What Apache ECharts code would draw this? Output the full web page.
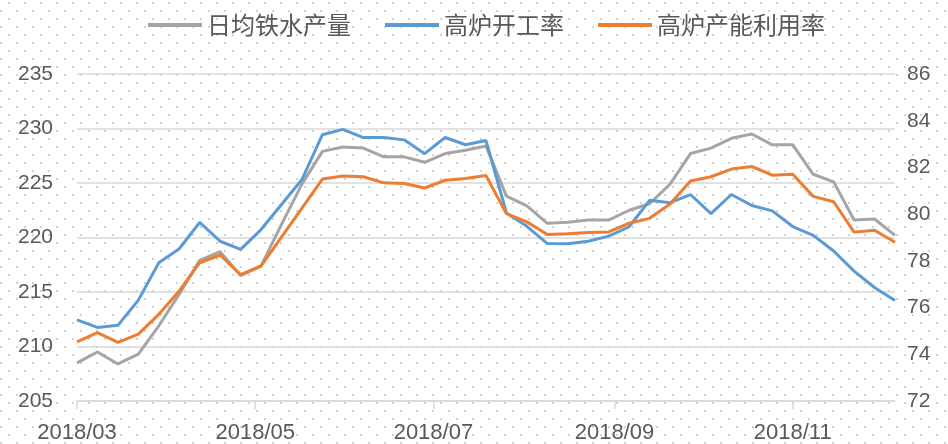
<!DOCTYPE html>
<html>
<head>
<meta charset="utf-8">
<script src="https://cdn.jsdelivr.net/npm/echarts@6/dist/echarts.min.js"></script>
<style>
    html, body {
        margin: 0;
        padding: 0;
        width: 948px;
        height: 444px;
        background-color: #ffffff;
        /* dotted paper background */
        background-image: url("data:image/svg+xml;utf8,<svg xmlns='http://www.w3.org/2000/svg' width='16' height='16'><rect x='8' y='2' width='2' height='2' fill='%23d2d2d2'/><rect x='0' y='10' width='2' height='2' fill='%23d2d2d2'/></svg>");
    }
    #chart {
        width: 948px;
        height: 444px;
    }
</style>
</head>
<body>
<div id="chart"></div>
<script>
    // weekly dates
    const dates = [
        '2018-03-02', '2018-03-09', '2018-03-16', '2018-03-23', '2018-03-30',
        '2018-04-06', '2018-04-13', '2018-04-20', '2018-04-27',
        '2018-05-04', '2018-05-11', '2018-05-18', '2018-05-25',
        '2018-06-01', '2018-06-08', '2018-06-15', '2018-06-22', '2018-06-29',
        '2018-07-06', '2018-07-13', '2018-07-20', '2018-07-27',
        '2018-08-03', '2018-08-10', '2018-08-17', '2018-08-24', '2018-08-31',
        '2018-09-07', '2018-09-14', '2018-09-21', '2018-09-28',
        '2018-10-05', '2018-10-12', '2018-10-19', '2018-10-26',
        '2018-11-02', '2018-11-09', '2018-11-16', '2018-11-23', '2018-11-30',
        '2018-12-07'
    ];
    // x axis tick positions
    const tickDates = ['2018-03-02', '2018-05-02', '2018-07-02', '2018-09-02', '2018-11-02'];

    // 日均铁水产量 (left axis)
    const ironOutput = [
        208.5, 209.5, 208.4, 209.3, 211.9, 214.8, 217.9, 218.7, 216.5, 217.4,
        221.2, 224.9, 227.9, 228.3, 228.2, 227.4, 227.4, 226.9, 227.7, 228.0,
        228.4, 223.8, 222.9, 221.3, 221.4, 221.6, 221.6, 222.5, 223.1, 224.9,
        227.7, 228.2, 229.1, 229.5, 228.5, 228.5, 225.8, 225.1, 221.6, 221.7,
        220.2
    ];
    // 高炉开工率 (right axis)
    const furnaceRate = [
        75.47, 75.15, 75.24, 76.32, 77.92, 78.52, 79.65, 78.84, 78.49, 79.34,
        80.41, 81.48, 83.40, 83.63, 83.28, 83.28, 83.18, 82.59, 83.28, 82.97,
        83.15, 80.05, 79.48, 78.74, 78.73, 78.84, 79.06, 79.46, 80.59, 80.49,
        80.84, 80.02, 80.84, 80.37, 80.14, 79.47, 79.09, 78.42, 77.56, 76.86,
        76.30
    ];
    // 高炉产能利用率 (right axis)
    const capacityRate = [
        74.53, 74.93, 74.51, 74.86, 75.71, 76.71, 77.92, 78.25, 77.41, 77.78,
        79.02, 80.26, 81.50, 81.63, 81.60, 81.34, 81.31, 81.12, 81.45, 81.53,
        81.65, 80.02, 79.67, 79.13, 79.16, 79.21, 79.24, 79.61, 79.82, 80.43,
        81.42, 81.60, 81.93, 82.04, 81.67, 81.71, 80.76, 80.53, 79.23, 79.31,
        78.80
    ];

    const toTs = s => +echarts.time.parse(s);
    const pairs = vals => dates.map((d, i) => [toTs(d), vals[i]]);

    const textColor = '#595959';
    const numFont = 'Liberation Sans';

    const myChart = echarts.init(document.getElementById('chart'), null, {renderer: 'canvas'});
    myChart.setOption({
        animation: false,
        color: ['#A5A5A5', '#5B9BD5', '#ED7D31'],
        legend: {
            left: 143,
            top: 8,
            icon: 'rect',
            itemWidth: 54,
            itemHeight: 4,
            itemGap: 34,
            textStyle: {
                fontFamily: 'Noto Sans CJK SC',
                fontSize: 24,
                color: textColor
            },
            data: ['日均铁水产量', '高炉开工率', '高炉产能利用率']
        },
        grid: {
            left: 77,
            right: 53,
            top: 74,
            bottom: 42
        },
        xAxis: {
            // dates as timestamps on a value axis, ticks every two months
            type: 'value',
            min: toTs(dates[0]),
            max: toTs(dates[dates.length - 1]),
            axisLine: {lineStyle: {color: '#d9d9d9', width: 1.5}},
            axisTick: {
                show: true,
                length: 8,
                customValues: tickDates.map(toTs),
                lineStyle: {color: '#d9d9d9', width: 1.5}
            },
            axisLabel: {
                customValues: tickDates.map(toTs),
                margin: 21,
                fontFamily: numFont,
                fontSize: 22,
                color: textColor,
                formatter: function (val) {
                    const d = new Date(val);
                    const m = d.getMonth() + 1;
                    return d.getFullYear() + '/' + (m < 10 ? '0' + m : m);
                }
            },
            splitLine: {show: false}
        },
        yAxis: [
            {
                type: 'value',
                min: 205,
                max: 235,
                interval: 5,
                axisLine: {show: false},
                axisTick: {show: false},
                axisLabel: {margin: 24, fontFamily: numFont, fontSize: 21, color: textColor},
                splitLine: {lineStyle: {color: '#d9d9d9', width: 1.5}}
            },
            {
                type: 'value',
                min: 72,
                max: 86,
                interval: 2,
                axisLine: {show: false},
                axisTick: {show: false},
                axisLabel: {margin: 12, fontFamily: numFont, fontSize: 21, color: textColor},
                splitLine: {show: false}
            }
        ],
        series: [
            {
                name: '日均铁水产量',
                type: 'line',
                yAxisIndex: 0,
                showSymbol: false,
                lineStyle: {width: 3},
                data: pairs(ironOutput)
            },
            {
                name: '高炉开工率',
                type: 'line',
                yAxisIndex: 1,
                showSymbol: false,
                lineStyle: {width: 3},
                data: pairs(furnaceRate)
            },
            {
                name: '高炉产能利用率',
                type: 'line',
                yAxisIndex: 1,
                showSymbol: false,
                lineStyle: {width: 3},
                data: pairs(capacityRate)
            }
        ]
    });
</script>
</body>
</html>
